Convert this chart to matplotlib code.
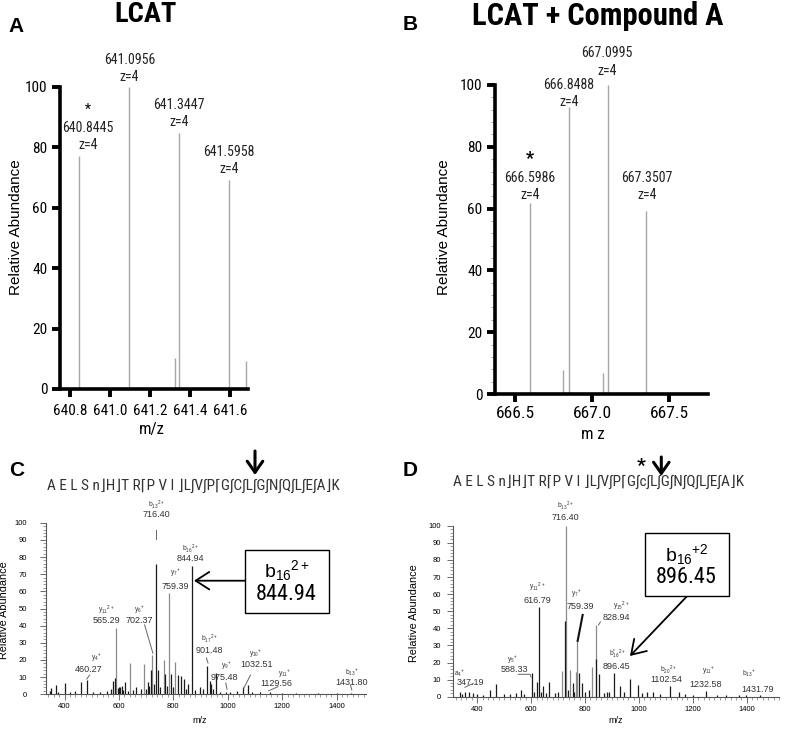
import matplotlib
matplotlib.use('Agg')
import matplotlib.pyplot as plt
from matplotlib import font_manager as fm
from matplotlib.patches import Rectangle, FancyArrowPatch
from matplotlib.lines import Line2D
from matplotlib.ticker import MultipleLocator

names = {f.name for f in fm.fontManager.ttflist}


def pick(cands):
    for c in cands:
        if c in names:
            return c
    return 'DejaVu Sans'


NARROW = pick(['Liberation Sans Narrow', 'Roboto Condensed', 'DejaVu Sans Condensed', 'Roboto',
               'Liberation Sans'])
REG = pick(['Liberation Sans', 'Roboto'])
plt.rcParams['font.family'] = [NARROW, 'DejaVu Sans']
plt.rcParams['mathtext.fontset'] = 'custom'
plt.rcParams['mathtext.rm'] = REG
plt.rcParams['mathtext.it'] = REG + ':italic'
plt.rcParams['mathtext.bf'] = REG + ':bold'

# ---------------- data ----------------
# Panel A: LCAT precursor isotope envelope
a_mz = [640.8445, 641.0956, 641.325, 641.3447, 641.5958, 641.679]
a_int = [77, 100, 10.2, 84.7, 69.2, 9.4]
a_xticks = [640.8, 641.0, 641.2, 641.4, 641.6]
a_xlim = (640.748, 641.689)
# (text, m/z, y)
a_labels = [("641.0956", 641.095, 108.9), ("z=4", 641.095, 103.3),
            ("640.8445", 640.888, 86.4), ("z=4", 640.888, 80.8),
            ("641.3447", 641.344, 94.0), ("z=4", 641.344, 88.4),
            ("641.5958", 641.594, 78.5), ("z=4", 641.594, 72.8)]
a_star = (640.888, 92.5)

# Panel B: LCAT + Compound A
b_mz = [666.5986, 666.808, 666.8488, 667.07, 667.0995, 667.3507]
b_int = [61.9, 7.8, 92.8, 6.7, 100, 59.3]
b_xticks = [666.5, 667.0, 667.5]
b_xlim = (666.370, 667.751)
b_labels = [("667.0995", 667.096, 110.4), ("z=4", 667.096, 104.5),
            ("666.8488", 666.850, 100.0), ("z=4", 666.850, 94.5),
            ("666.5986", 666.597, 69.9), ("z=4", 666.597, 64.4),
            ("667.3507", 667.355, 69.9), ("z=4", 667.355, 64.4)]
b_star = (666.597, 76.0)

# Panel C: MS/MS spectrum, LCAT peptide
c_dark_mz = [351, 367, 403, 459, 484, 578, 584, 602, 610, 624, 664, 707, 719, 737.5, 744,
             771, 793, 817, 829, 839, 854, 868.5, 897, 925, 934, 940, 955, 994, 1056, 1075,
             1155, 1454,
             345, 375, 420, 440, 505, 530, 555, 570, 596, 605, 615, 633, 650, 680, 700, 712,
             730, 750, 778, 800, 845, 880, 910, 945, 970, 1010, 1035, 1090, 1120, 1200, 1250,
             1330, 1400]
c_dark_int = [3.5, 5.4, 6.4, 7.3, 8.3, 7.5, 9.3, 4.5, 5, 7, 4, 7, 14, 75.9, 14,
              12, 12, 11, 10.5, 9, 5.8, 74.8, 4.2, 16.5, 8, 6, 12.2, 1.5, 4.4, 5.4,
              1.5, 1,
              2, 1.5, 1.5, 2, 1.5, 1.2, 2, 3, 3.5, 4, 2.5, 2, 2.5, 3, 3, 5,
              6, 4, 5, 4, 3, 2.5, 3, 3, 1.5, 1.5, 2, 1.5, 1.2, 1, 1,
              1, 1]
c_light_mz = [588, 642, 691, 723, 764, 783, 807]
c_light_int = [38.4, 18, 17.6, 22.9, 20, 58.8, 18.6]
c_xlim = (332, 1508)
# (ion, value, ion m/z, ion y, value m/z, value y)
c_labels = [(r"b_{13}{}^{2+}", "716.40", 737.5, 110.5, 737.5, 104.5),
            (r"b_{16}{}^{2+}", "844.94", 863.8, 84.6, 863.8, 78.9),
            (r"y_{7}{}^{+}", "759.39", 808.5, 70.9, 808.5, 62.7),
            (r"y_{11}{}^{2+}", "565.29", 553.5, 49.1, 553.5, 42.9),
            (r"y_{6}{}^{+}", "702.37", 676, 49.1, 676, 42.9),
            (r"b_{17}{}^{2+}", "901.48", 933.7, 32.1, 933.7, 25.8),
            (r"y_{9}{}^{+}", "975.48", 995, 16.5, 988.9, 9.9),
            (r"y_{10}{}^{+}", "1032.51", 1103, 23.5, 1106.7, 17.1),
            (r"y_{11}{}^{+}", "1129.56", 1209.7, 12.2, 1179, 6.4),
            (r"b_{13}{}^{+}", "1431.80", 1455, 13, 1455, 7),
            (r"y_{4}{}^{+}", "460.27", 516.7, 21, 489.4, 14.6)]
c_leaders = [[(737.5, 95.8), (737.5, 90.5)], [(694.4, 40.4), (725, 23.9)],
             [(921.5, 21.2), (927.4, 18.2)], [(992.6, 6.6), (997.3, 2.9)],
             [(1083.5, 11.2), (1058.8, 3.5)], [(1150, 2), (1185, 4.5)],
             [(1451, 5.4), (1456, 2.5)], [(492, 11.2), (482, 8.9)]]
c_seq = "A E L S n\u230bH\u230bT R\u2308P V I \u230bL\u222bV\u222bP\u2308G\u222bC\u222bL\u222bG\u222bN\u222bQ\u222bL\u222bE\u222bA\u230bK"

# Panel D: MS/MS spectrum, LCAT + Compound A
d_dark_mz = [336, 354, 370, 385, 447, 469, 562, 602, 620.5, 629, 643, 666, 727.5, 754, 779,
             787.5, 842, 850.5, 890, 908.6, 929.6, 966.7, 996, 1029, 1054, 1116, 1148, 1248,
             1325, 1398,
             345, 400, 420, 500, 520, 545, 575, 610, 635, 655, 690, 700, 735, 760, 800, 815,
             870, 880, 945, 1010, 1080, 1170, 1200, 1290, 1370, 1450]
d_dark_int = [3, 3, 2.5, 2, 4, 7.2, 4, 13.7, 8.8, 52.6, 6, 8.8, 44, 8, 13.6,
              8, 22, 13.1, 3, 13.7, 6, 10.2, 7, 3, 2.5, 6.3, 3, 3.5,
              1, 1,
              1.5, 1.5, 1.2, 1.5, 1.5, 2, 1.5, 3, 2.5, 2, 2, 2.5, 4, 3, 3, 4,
              2, 2.5, 2.5, 2, 1.5, 1.5, 1.2, 1, 1, 1]
d_light_mz = [713, 729, 744, 765, 771, 827, 840.6]
d_light_int = [15.2, 100, 15.6, 14.6, 33, 17.5, 42]
d_xlim = (310, 1520)
d_labels = [(r"b_{13}{}^{2+}", "716.40", 726.6, 111.5, 726.6, 104.9),
            (r"y_{11}{}^{2+}", "616.79", 622.7, 64, 622.7, 56.5),
            (r"y_{7}{}^{+}", "759.39", 769, 60, 783.8, 53),
            (r"y_{15}{}^{2+}", "828.94", 936, 53, 917.4, 46.4),
            (r"b_{16}^{*}{}^{2+}", "896.45", 919.7, 25, 917.4, 17.5),
            (r"y_{5}{}^{+}", "588.33", 531.4, 21.5, 536.2, 16),
            (r"a_{4}{}^{+}", "347.19", 335.8, 13.7, 372.9, 8.4),
            (r"b_{20}{}^{2+}", "1102.54", 1109, 15.6, 1103, 10.2),
            (r"y_{11}{}^{+}", "1232.58", 1257.5, 15, 1249, 7.4),
            (r"b_{13}{}^{+}", "1431.79", 1409.6, 13.7, 1439.3, 4.3)]
d_leaders = [[(857, 43.7), (850, 41.9)],
             [(552.2, 13.1), (596.2, 13.1), (600, 11.5)], [(354.3, 5.5), (385.2, 7.8)]]
d_thick_leader = [(791.2, 47.8), (772.7, 32.7)]
d_seq = "A E L S n\u230bH\u230bT R\u2308P V I \u230bL\u222bV\u222bP\u2308G\u222bc\u222bL\u222bG\u222bN\u222bQ\u222bL\u222bE\u222bA\u230bK"

# ---------------- figure ----------------
W, H = 786.0, 730.0
fig = plt.figure(figsize=(W / 100, H / 100), dpi=100)


def P(x, y):
    return (x / W, 1 - y / H)


def add_ax(x0, x1, ytop, ybot):
    return fig.add_axes([x0 / W, 1 - ybot / H, (x1 - x0) / W, (ybot - ytop) / H])


def style_iso(ax, xlim, xticks, minor, xsize, xpad):
    ax.set_xlim(*xlim)
    ax.set_ylim(0, 100)
    for s in ('top', 'right'):
        ax.spines[s].set_visible(False)
    for s in ('left', 'bottom'):
        ax.spines[s].set_linewidth(2.6)
    ax.set_yticks([0, 20, 40, 60, 80, 100])
    ax.set_xticks(xticks)
    ax.set_xticklabels(["%.1f" % t for t in xticks])
    ax.tick_params(which='major', length=6, width=2.8, labelsize=11, pad=3)
    ax.tick_params(axis='x', which='major', labelsize=xsize, pad=xpad)
    if minor:
        ax.yaxis.set_minor_locator(MultipleLocator(4))
        ax.tick_params(axis='y', which='minor', length=3, width=0.6, color='#999999')
    ax.set_ylabel("Relative Abundance", fontsize=11, family=REG)


for lab, x, y in [("A", 16, 31.5), ("B", 410, 30), ("C", 17, 476.5), ("D", 410, 476.5)]:
    fig.text(*P(x, y), lab, fontsize=15, fontweight='bold', family=REG, ha='center',
             va='baseline')
fig.text(*P(146, 22), "LCAT", fontsize=20.5, fontweight='bold', ha='center', va='baseline')
fig.text(*P(598, 25), "LCAT + Compound A", fontsize=22, fontweight='bold',
         ha='center', va='baseline')

# Panel A
axA = add_ax(60, 248, 87, 389)
style_iso(axA, a_xlim, a_xticks, False, 11, 5)
axA.vlines(a_mz, 0, a_int, color='#a8a8a8', lw=1.0)
for t, x, y in a_labels:
    axA.text(x, y, t, fontsize=10, ha='center', va='center', color='#222222', clip_on=False)
axA.text(a_star[0], a_star[1], "*", fontsize=10, ha='center', va='center', clip_on=False)
axA.yaxis.set_label_coords(-0.197, 0.536)
axA.set_xlabel("m/z", fontsize=12)
axA.xaxis.set_label_coords(0.489, -0.109)

# Panel B
axB = add_ax(495, 708, 85, 394)
style_iso(axB, b_xlim, b_xticks, True, 12.5, 3)
axB.vlines(b_mz, 0, b_int, color='#a8a8a8', lw=1.0)
for t, x, y in b_labels:
    axB.text(x, y, t, fontsize=10, ha='center', va='center', color='#222222', clip_on=False)
axB.text(b_star[0], b_star[1], "*", fontsize=13, fontweight='bold', ha='center', va='center',
         clip_on=False)
axB.yaxis.set_label_coords(-0.207, 0.54)
axB.set_xlabel("m z", fontsize=12)
axB.xaxis.set_label_coords(0.46, -0.108)


def style_ms(ax, xlim, ypad):
    ax.set_xlim(*xlim)
    ax.set_ylim(0, 100)
    for s in ('top', 'right'):
        ax.spines[s].set_visible(False)
    for s in ('left', 'bottom'):
        ax.spines[s].set_linewidth(0.8)
        ax.spines[s].set_color('#555555')
    ax.set_yticks(range(0, 101, 10))
    ax.yaxis.set_minor_locator(MultipleLocator(2))
    ax.set_xticks(range(400, 1401, 200))
    ax.xaxis.set_minor_locator(MultipleLocator(20))
    ax.tick_params(which='major', length=4.5, width=0.6, color='#555555', labelsize=5.5,
                   pad=2, labelfontfamily=REG)
    ax.tick_params(axis='y', which='major', pad=ypad)
    ax.tick_params(which='minor', length=2.5, width=0.5, color='#777777')
    ax.set_ylabel("Relative Abundance", fontsize=7.8, family=REG)
    ax.set_xlabel("m/z", fontsize=6.5, family=REG)


def draw_labels(ax, labels):
    for ion, val, xi, yi, xv, yv in labels:
        ax.text(xi, yi, "$\\mathrm{" + ion[0] + "}" + ion[1:] + "$", fontsize=4.8,
                ha='center', va='center', color='#333333', clip_on=False)
        ax.text(xv, yv, val, fontsize=6.5, family=REG, ha='center', va='center',
                color='#333333', clip_on=False)


# Panel C
axC = add_ax(46, 366, 522.7, 694.3)
style_ms(axC, c_xlim, 9)
axC.vlines(c_light_mz, 0, c_light_int, color='#8a8a8a', lw=0.9)
axC.vlines(c_dark_mz, 0, c_dark_int, color='#1a1a1a', lw=0.9)
draw_labels(axC, c_labels)
for seg in c_leaders:
    xs, ys = zip(*seg)
    axC.add_line(Line2D(xs, ys, color='#666666', lw=0.7, clip_on=False))
axC.yaxis.set_label_coords(-0.116, 0.49)
axC.xaxis.set_label_coords(0.48, -0.126)
axC.add_patch(Rectangle((1062.5, 47.6), 310.3, 36.5, fc='white', ec='black', lw=1.0,
                        clip_on=False, zorder=5))
axC.text(1216, 72.4, r"$\mathrm{b}_{16}{}^{2+}$", fontsize=14, ha='center', va='center', zorder=6)
axC.text(1216, 57.9, "844.94", fontsize=16, ha='center', va='center', zorder=6)
axC.annotate("", xy=(875.9, 66.2), xytext=(1062.5, 66.2),
             arrowprops=dict(arrowstyle='->,head_length=0.7,head_width=0.45', lw=1.3,
                             color='black', mutation_scale=14, shrinkA=0, shrinkB=0))
fig.text(*P(193.5, 486), c_seq, fontsize=11, ha='center', va='center', color='#333333')
fig.add_artist(FancyArrowPatch(P(255, 451), P(255, 475), transform=fig.transFigure,
                               arrowstyle='->,head_length=0.5,head_width=0.35', lw=2.2,
                               color='black', mutation_scale=16, shrinkA=0, shrinkB=0))

# Panel D
axD = add_ax(453, 779, 525.7, 696.7)
style_ms(axD, d_xlim, 4)
axD.vlines(d_light_mz, 0, d_light_int, color='#8a8a8a', lw=0.9)
axD.vlines(d_dark_mz, 0, d_dark_int, color='#1a1a1a', lw=0.9)
draw_labels(axD, d_labels)
for seg in d_leaders:
    xs, ys = zip(*seg)
    axD.add_line(Line2D(xs, ys, color='#666666', lw=0.7, clip_on=False))
xs, ys = zip(*d_thick_leader)
axD.add_line(Line2D(xs, ys, color='#111111', lw=1.5, clip_on=False))
axD.yaxis.set_label_coords(-0.104, 0.49)
axD.xaxis.set_label_coords(0.5, -0.113)
axD.add_patch(Rectangle((1022, 58.9), 313.4, 36.7, fc='white', ec='black', lw=1.0,
                        clip_on=False, zorder=5))
axD.text(1177, 82.9, r"$\mathrm{b}_{16}{}^{+2}$", fontsize=14, ha='center', va='center', zorder=6)
axD.text(1177, 69.6, "896.45", fontsize=16, ha='center', va='center', zorder=6)
axD.annotate("", xy=(966.8, 23.8), xytext=(1177, 58.5),
             arrowprops=dict(arrowstyle='->,head_length=0.7,head_width=0.45', lw=1.3,
                             color='black', mutation_scale=14, shrinkA=0, shrinkB=0))
fig.text(*P(598.5, 481.7), d_seq, fontsize=11, ha='center', va='center', color='#333333')
fig.text(*P(641.3, 466), "*", fontsize=14, fontweight='bold', ha='center', va='center')
fig.add_artist(FancyArrowPatch(P(661.3, 457), P(661.3, 476), transform=fig.transFigure,
                               arrowstyle='->,head_length=0.5,head_width=0.35', lw=2.2,
                               color='black', mutation_scale=16, shrinkA=0, shrinkB=0))

fig.savefig("out.png", dpi=100, facecolor='white')
